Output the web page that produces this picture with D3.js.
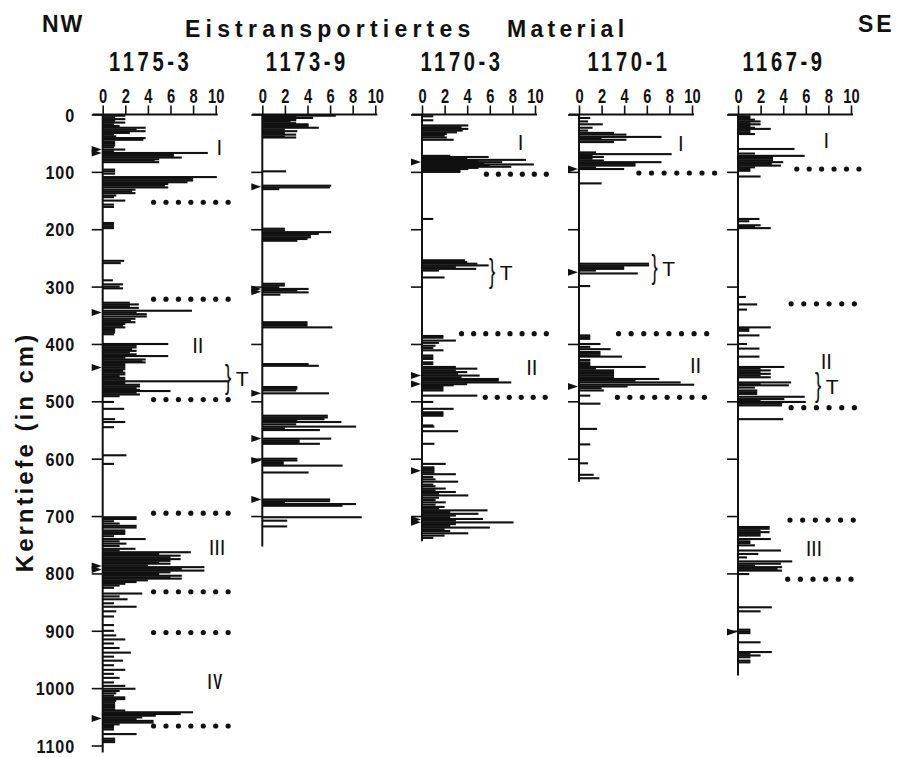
<!DOCTYPE html>
<html>
<head>
<meta charset="utf-8">
<script src="https://cdn.jsdelivr.net/npm/d3@7"></script>
<style>
  body { margin: 0; background: #fff; }
  svg { display: block; }
  text { font-family: "Liberation Sans", Arial, sans-serif; fill: #111; }
</style>
</head>
<body>
<div id="chart"></div>
<script>
// Eistransportiertes Material vs. Kerntiefe, five cores from NW to SE

const width = 898;
const height = 757;

// ---- data ----
const coreNames = ["1175-3", "1173-9", "1170-3", "1170-1", "1167-9"];
const coreBottoms = [1112, 753, 744, 640, 978];
const depthTicks = [0, 100, 200, 300, 400, 500, 600, 700, 800, 900, 1000, 1100];
const valueTicks = [0, 2, 4, 6, 8, 10];

// [depth in cm, amount]
const bars1175_3 = [
  [2,2.0],[5,1.1],[8,2.0],[11,1.1],[14,2.0],[17,1.0],[20,1.5],[23,3.8],[26,3.0],[29,3.8],[32,2.4],[35,1.0],[38,1.2],[41,3.8],[44,3.6],
  [48,1.1],[51,1.1],[54,1.1],[57,1.0],[61,2.0],[64,1.0],[67,9.3],[70,6.3],[72,6.3],[75,7.0],[78,5.0],[80,4.6],[83,5.0],
  [96,1.1],[99,1.1],[103,1.1],[109,10.1],[112,8.0],[115,8.0],[118,7.5],[121,5.8],[124,5.5],[127,5.8],[131,2.9],[134,2.6],[137,2.9],
  [141,1.2],[144,1.0],[150,2.0],[157,1.0],[161,1.0],[189,1.0],[192,1.0],[195,1.0],[198,1.0],[255,1.9],[259,1.6],
  [289,0.9],[296,1.8],[300,1.5],[303,1.8],[328,2.4],[331,3.2],[334,2.4],[337,3.2],[342,7.9],[345,3.0],[348,3.9],[352,3.9],
  [356,2.9],[359,2.5],[362,2.9],[365,2.0],[368,1.8],[371,2.0],[374,1.1],[377,1.1],[380,1.1],[383,1.0],
  [400,5.8],[403,3.0],[406,3.0],[409,2.6],[412,3.0],[415,2.4],[418,3.0],[421,5.8],[424,2.0],[427,3.8],[430,3.5],[432,3.8],
  [435,2.0],[438,2.0],[441,2.0],[444,2.0],[447,1.8],[450,2.0],[453,2.0],[456,1.5],[459,2.0],[462,2.0],[465,11.2],[468,2.0],
  [471,3.3],[474,3.3],[477,3.0],[480,3.3],[482,6.0],[485,3.0],[488,3.3],[491,1.5],
  [501,1.0],[513,1.9],[531,1.1],[536,2.0],[545,1.0],[594,2.1],[609,1.0],
  [702,3.0],[705,3.0],[709,1.0],[713,1.5],[717,3.0],[720,3.0],[725,2.0],[728,2.0],[731,2.0],[735,1.0],[740,3.8],[744,1.5],
  [748,2.1],[752,1.5],[757,2.9],[760,1.5],[763,7.8],[766,5.0],[769,6.9],[772,6.0],[775,6.9],[778,6.0],[781,5.0],[783,6.0],
  [786,4.0],[789,9.0],[792,7.0],[795,9.0],[798,6.0],[801,5.0],[804,7.0],[807,6.0],[809,7.0],[812,4.0],[815,3.0],[818,2.0],
  [821,1.5],[825,1.0],
  [835,3.5],[840,1.5],[845,2.2],[852,1.0],[858,3.0],[866,1.2],[875,1.0],[890,1.0],[900,1.0],[908,1.2],[915,2.0],[922,1.0],
  [930,1.5],[938,2.5],[945,1.0],[952,1.8],[960,1.0],[968,2.0],[975,1.0],[982,1.5],[990,1.0],[996,2.0],
  [1001,2.9],[1005,1.5],[1009,1.2],[1013,1.0],[1016,2.0],[1019,2.0],[1022,1.2],[1025,1.1],[1028,1.1],[1031,1.1],[1034,1.1],
  [1037,1.1],[1039,2.0],[1042,8.0],[1045,6.9],[1048,4.7],[1051,3.5],[1054,3.0],[1057,4.5],[1060,4.5],[1063,1.5],[1066,1.0],
  [1069,1.0],[1072,1.0],[1080,3.0],[1088,1.1],[1091,1.1],[1094,1.1]
];
const bars1173_9 = [
  [2,6.5],[4,3.0],[6,4.5],[8,3.0],[10,3.0],[12,2.5],[15,3.0],[17,4.1],[20,4.1],[23,5.0],[26,2.0],[29,3.1],[32,2.0],[35,3.0],
  [38,2.0],[40,3.0],[99,2.1],[124,6.1],[127,6.0],[130,1.5],[199,2.0],[202,2.0],[205,6.1],[208,5.0],[211,4.3],[214,4.3],
  [217,4.0],[220,3.1],[295,2.0],[298,2.0],[301,1.5],[304,4.1],[307,3.1],[310,4.1],[314,1.6],[362,4.0],[365,4.0],[368,4.0],
  [371,6.2],[435,4.1],[438,5.0],[475,3.1],[478,3.1],[481,3.0],[486,5.9],[525,5.8],[528,5.8],[531,5.5],[534,3.1],[536,7.0],
  [540,3.0],[544,8.3],[547,2.0],[550,5.1],[565,6.1],[568,3.3],[571,3.3],[574,5.1],[600,3.1],[603,3.1],[606,1.9],[609,1.9],
  [612,7.1],[624,4.1],[671,6.0],[674,6.0],[676,2.0],[679,8.3],[682,7.1],[702,8.8],[708,2.2],[718,2.2]
];
const bars1170_3 = [
  [3,1.0],[10,1.0],[19,4.1],[22,3.5],[25,4.1],[28,3.6],[31,3.1],[34,2.2],[37,2.0],[40,2.2],[44,2.8],[72,2.5],[74,5.9],
  [77,4.0],[79,9.2],[81,5.0],[83,7.1],[85,5.5],[87,9.9],[89,6.0],[91,7.9],[93,5.0],[95,4.1],[98,3.4],[100,3.4],[182,1.0],
  [254,3.8],[257,4.0],[260,4.9],[263,5.9],[266,3.0],[269,4.8],[272,1.5],[284,2.0],[386,1.9],[389,1.9],[394,3.0],[398,1.5],
  [403,1.2],[407,1.0],[411,1.9],[420,1.0],[423,1.0],[426,1.0],[432,1.0],[435,1.0],[440,3.0],[443,4.9],[446,3.0],[449,4.0],
  [452,3.2],[455,5.1],[458,3.5],[461,6.8],[464,6.8],[467,7.9],[470,4.0],[472,2.8],[475,1.9],[478,1.9],[481,1.9],[490,4.9],
  [501,1.0],[513,2.8],[519,1.9],[522,1.9],[525,1.9],[542,1.0],[544,1.1],[552,3.2],[574,1.1],[609,2.1],[615,1.1],[618,1.1],
  [621,1.1],[624,1.1],[627,3.0],[632,1.0],[636,1.2],[640,3.2],[645,1.0],[648,1.2],[652,2.1],[655,1.2],[658,3.0],[661,1.5],
  [664,4.1],[668,1.5],[672,1.2],[676,2.1],[680,1.2],[684,2.0],[687,1.5],[690,5.8],[693,2.5],[696,5.0],[699,3.0],[702,2.5],
  [705,5.4],[708,3.0],[711,8.1],[714,3.0],[717,2.5],[720,6.0],[723,2.0],[726,2.5],[730,4.1],[734,2.0],[738,1.0]
];
const bars1170_1 = [
  [6,1.0],[12,0.8],[17,2.1],[23,1.2],[28,0.8],[32,3.1],[35,4.2],[39,7.3],[42,2.0],[44,4.2],[48,3.1],[66,1.5],[69,8.2],
  [72,1.2],[74,2.2],[77,1.2],[80,2.2],[83,7.3],[86,5.0],[89,5.0],[92,1.5],[95,4.0],[120,2.0],[260,6.2],[263,6.2],[266,4.0],
  [269,4.0],[272,1.5],[277,5.2],[299,1.0],[385,1.0],[388,1.0],[391,1.0],[400,1.9],[405,1.0],[409,2.8],[414,1.9],[417,1.9],
  [420,1.9],[422,3.8],[428,1.0],[432,1.0],[435,1.0],[438,1.0],[440,5.9],[443,1.5],[446,3.1],[449,3.1],[452,3.1],[455,3.1],
  [458,3.1],[461,7.1],[464,5.0],[467,9.0],[471,10.2],[474,4.3],[477,2.0],[481,2.2],[490,1.0],[504,1.9],[548,1.6],[575,1.0],
  [608,0.8],[628,1.3],[634,1.8]
];
const bars1167_9 = [
  [3,1.1],[6,1.1],[9,1.5],[12,2.0],[15,1.1],[17,2.0],[20,1.1],[23,1.5],[25,2.9],[28,1.1],[31,1.1],[34,1.5],[60,5.0],[68,1.5],
  [72,5.9],[74,3.1],[77,3.1],[80,3.1],[83,4.0],[86,3.0],[89,3.8],[92,1.5],[95,1.1],[98,1.1],[108,2.0],[182,1.9],[186,1.0],
  [193,2.0],[196,1.5],[198,2.9],[318,0.7],[331,1.7],[340,0.8],[371,2.9],[374,1.0],[377,1.0],[385,1.9],[400,0.8],[408,1.9],
  [422,1.9],[440,4.1],[443,2.0],[446,2.9],[449,2.0],[452,2.9],[455,2.0],[458,2.9],[467,4.7],[470,2.0],[472,4.5],[476,1.5],
  [481,1.7],[484,1.7],[487,1.7],[492,5.9],[496,4.1],[499,2.0],[501,6.0],[504,3.9],[507,3.9],[531,4.0],
  [719,2.8],[722,2.8],[725,2.0],[728,2.8],[731,2.0],[734,2.0],[740,2.9],[744,1.1],[747,1.1],[751,1.5],[760,3.8],[766,1.8],
  [772,0.8],[779,4.8],[783,3.8],[786,1.5],[789,3.9],[792,3.5],[795,3.9],[801,1.0],[859,3.0],[866,2.0],[898,1.1],[901,1.1],
  [904,1.1],[920,2.0],[937,3.0],[940,1.1],[943,2.0],[946,1.1],[952,1.1],[955,1.1]
];
const coreBars = [bars1175_3, bars1173_9, bars1170_3, bars1170_1, bars1167_9];

// depths marked with a small arrow on the depth axis
const coreArrows = [
  [61, 67, 345, 441, 787, 793, 1053],
  [126, 304, 309, 486, 565, 603, 671],
  [83, 455, 470, 621, 706, 711],
  [95, 275, 474],
  [902]
];

// dotted boundaries: [core, depth, from amount, to amount, dots]
const boundaries = [
  [0,153,4.5,11.1,7],[0,322,4.5,11.1,7],[0,497,4.5,11.1,7],[0,695,4.5,11.1,7],[0,832,4.5,11.1,7],[0,903,4.5,11.1,7],[0,1066,4.5,11.1,7],
  [2,104,5.7,11.0,6],[2,382,3.5,11.0,8],[2,493,5.6,10.9,6],
  [3,102,5.3,12.0,7],[3,382,3.5,11.3,8],[3,493,3.4,11.1,8],
  [4,95,5.2,10.7,6],[4,330,4.7,10.3,6],[4,511,4.7,10.3,6],[4,707,4.6,10.2,6],[4,810,4.4,10.0,6]
];

// labels: [core, text, depth, amount]
const zoneLabels = [
  [0,"I",57,10.4],[0,"II",402,8.5],[0,"III",754,10.2],[0,"IV",987,10.0],
  [2,"I",48,8.8],[2,"II",441,9.8],
  [3,"I",50,9.1],[3,"II",437,10.4],
  [4,"I",45,7.9],[4,"II",429,7.9],[4,"III",755,6.8]
];
// tephra marks: [core, depth, amount]
const tephra = [[0,460,11.1],[2,274,6.2],[3,268,6.7],[4,474,7.1]];

// ---- layout ----
const panelLeft = [102.7, 262.3, 422, 579, 738];
const panelWidth = 113;
const titleShift = [48, 45, 40, 50, 46];

const svg = d3.select("#chart").append("svg")
  .attr("width", width)
  .attr("height", height);

const y = d3.scaleLinear().domain([0, 1100]).range([114.5, 745.5]);

function condText(sel, x, yy, str, size, sx, anchor) {
  return sel.append("text")
    .attr("transform", `translate(${x},${yy}) scale(${sx},1)`)
    .attr("text-anchor", anchor)
    .attr("font-size", size)
    .attr("font-weight", "bold")
    .text(str);
}

// header
svg.append("text").attr("x", 42).attr("y", 32).attr("font-size", 23).attr("font-weight", "bold")
  .attr("letter-spacing", 2).text("NW");
svg.append("text").attr("x", 858).attr("y", 32).attr("font-size", 23).attr("font-weight", "bold")
  .attr("letter-spacing", 3).text("SE");
svg.append("text").attr("x", 185).attr("y", 37).attr("font-size", 23).attr("font-weight", "bold")
  .attr("letter-spacing", 5.2).text("Eistransportiertes");
svg.append("text").attr("x", 507).attr("y", 37).attr("font-size", 23).attr("font-weight", "bold")
  .attr("letter-spacing", 4.3).text("Material");

// depth axis title
svg.append("text")
  .attr("transform", `translate(33,452) rotate(-90)`)
  .attr("text-anchor", "middle")
  .attr("font-size", 24)
  .attr("font-weight", "bold")
  .attr("letter-spacing", 3)
  .text("Kerntiefe (in cm)");

// depth labels
depthTicks.forEach(d => {
  condText(svg, 75, y(d) + 7, String(d), 19, 0.85, "end").attr("letter-spacing", 1);
});

coreNames.forEach((name, i) => {
  const x = d3.scaleLinear().domain([0, 10]).range([panelLeft[i], panelLeft[i] + panelWidth]);
  const g = svg.append("g");

  // core name
  condText(g, panelLeft[i] + titleShift[i], 71, name, 28, 0.72, "middle").attr("letter-spacing", 5);

  // bars
  g.selectAll(".bar")
    .data(coreBars[i])
    .enter()
    .append("rect")
    .attr("class", "bar")
    .attr("x", x(0))
    .attr("y", d => y(d[0]) - 1)
    .attr("width", d => x(d[1]) - x(0))
    .attr("height", 2.1)
    .attr("fill", "#111");

  // top amount axis
  const ax = g.append("g")
    .attr("transform", `translate(0,${y(0)})`)
    .call(d3.axisTop(x).tickValues(valueTicks).tickSize(9).tickPadding(2.5))
    .attr("font-family", null)
    .attr("font-size", null);
  ax.select(".domain").remove();
  ax.selectAll(".tick line").attr("stroke", "#111").attr("stroke-width", 1.6);
  ax.selectAll(".tick text")
    .attr("font-size", 21)
    .attr("font-weight", "bold")
    .attr("fill", "#111")
    .attr("transform", "scale(0.7,1)");
  g.append("line")
    .attr("x1", x(0) - 10).attr("x2", x(10) + 2)
    .attr("y1", y(0)).attr("y2", y(0))
    .attr("stroke", "#111").attr("stroke-width", 2);

  // depth axis with ticks on the left
  const dy = g.append("g")
    .attr("transform", `translate(${x(0)},0)`)
    .call(d3.axisLeft(y).tickValues(depthTicks.filter(d => d <= coreBottoms[i])).tickSize(11).tickFormat(""));
  dy.select(".domain").remove();
  dy.selectAll(".tick line").attr("stroke", "#111").attr("stroke-width", 1.6);
  g.append("line")
    .attr("x1", x(0)).attr("x2", x(0))
    .attr("y1", y(0)).attr("y2", y(coreBottoms[i]))
    .attr("stroke", "#111").attr("stroke-width", 2);

  // arrows
  g.selectAll(".arrow")
    .data(coreArrows[i])
    .enter()
    .append("path")
    .attr("class", "arrow")
    .attr("d", d => {
      const p = d3.path();
      p.moveTo(x(0) - 1, y(d));
      p.lineTo(x(0) - 11, y(d) - 3.5);
      p.lineTo(x(0) - 11, y(d) + 3.5);
      p.closePath();
      return p.toString();
    })
    .attr("fill", "#111");

  // dotted boundaries
  boundaries.filter(b => b[0] === i).forEach(b => {
    const pos = d3.range(b[4]).map(k => b[2] + (b[3] - b[2]) * k / (b[4] - 1));
    g.selectAll(null)
      .data(pos)
      .enter()
      .append("circle")
      .attr("cx", v => x(v))
      .attr("cy", y(b[1]))
      .attr("r", 2.6)
      .attr("fill", "#111");
  });

  // zone labels
  zoneLabels.filter(l => l[0] === i).forEach(l => {
    condText(g, x(l[3]), y(l[2]) + 8, l[1], 22, 0.6, "middle").attr("letter-spacing", 3);
  });

  // tephra brace + T
  tephra.filter(t => t[0] === i).forEach(t => {
    g.append("text")
      .attr("transform", `translate(${x(t[2])},${y(t[1]) + 10}) scale(0.55,1)`)
      .attr("text-anchor", "middle")
      .attr("font-size", 34)
      .attr("font-weight", "normal")
      .text("}");
    g.append("text")
      .attr("x", x(t[2]) + 14)
      .attr("y", y(t[1]) + 8)
      .attr("text-anchor", "middle")
      .attr("font-size", 21)
      .text("T");
  });
});
</script>
</body>
</html>
